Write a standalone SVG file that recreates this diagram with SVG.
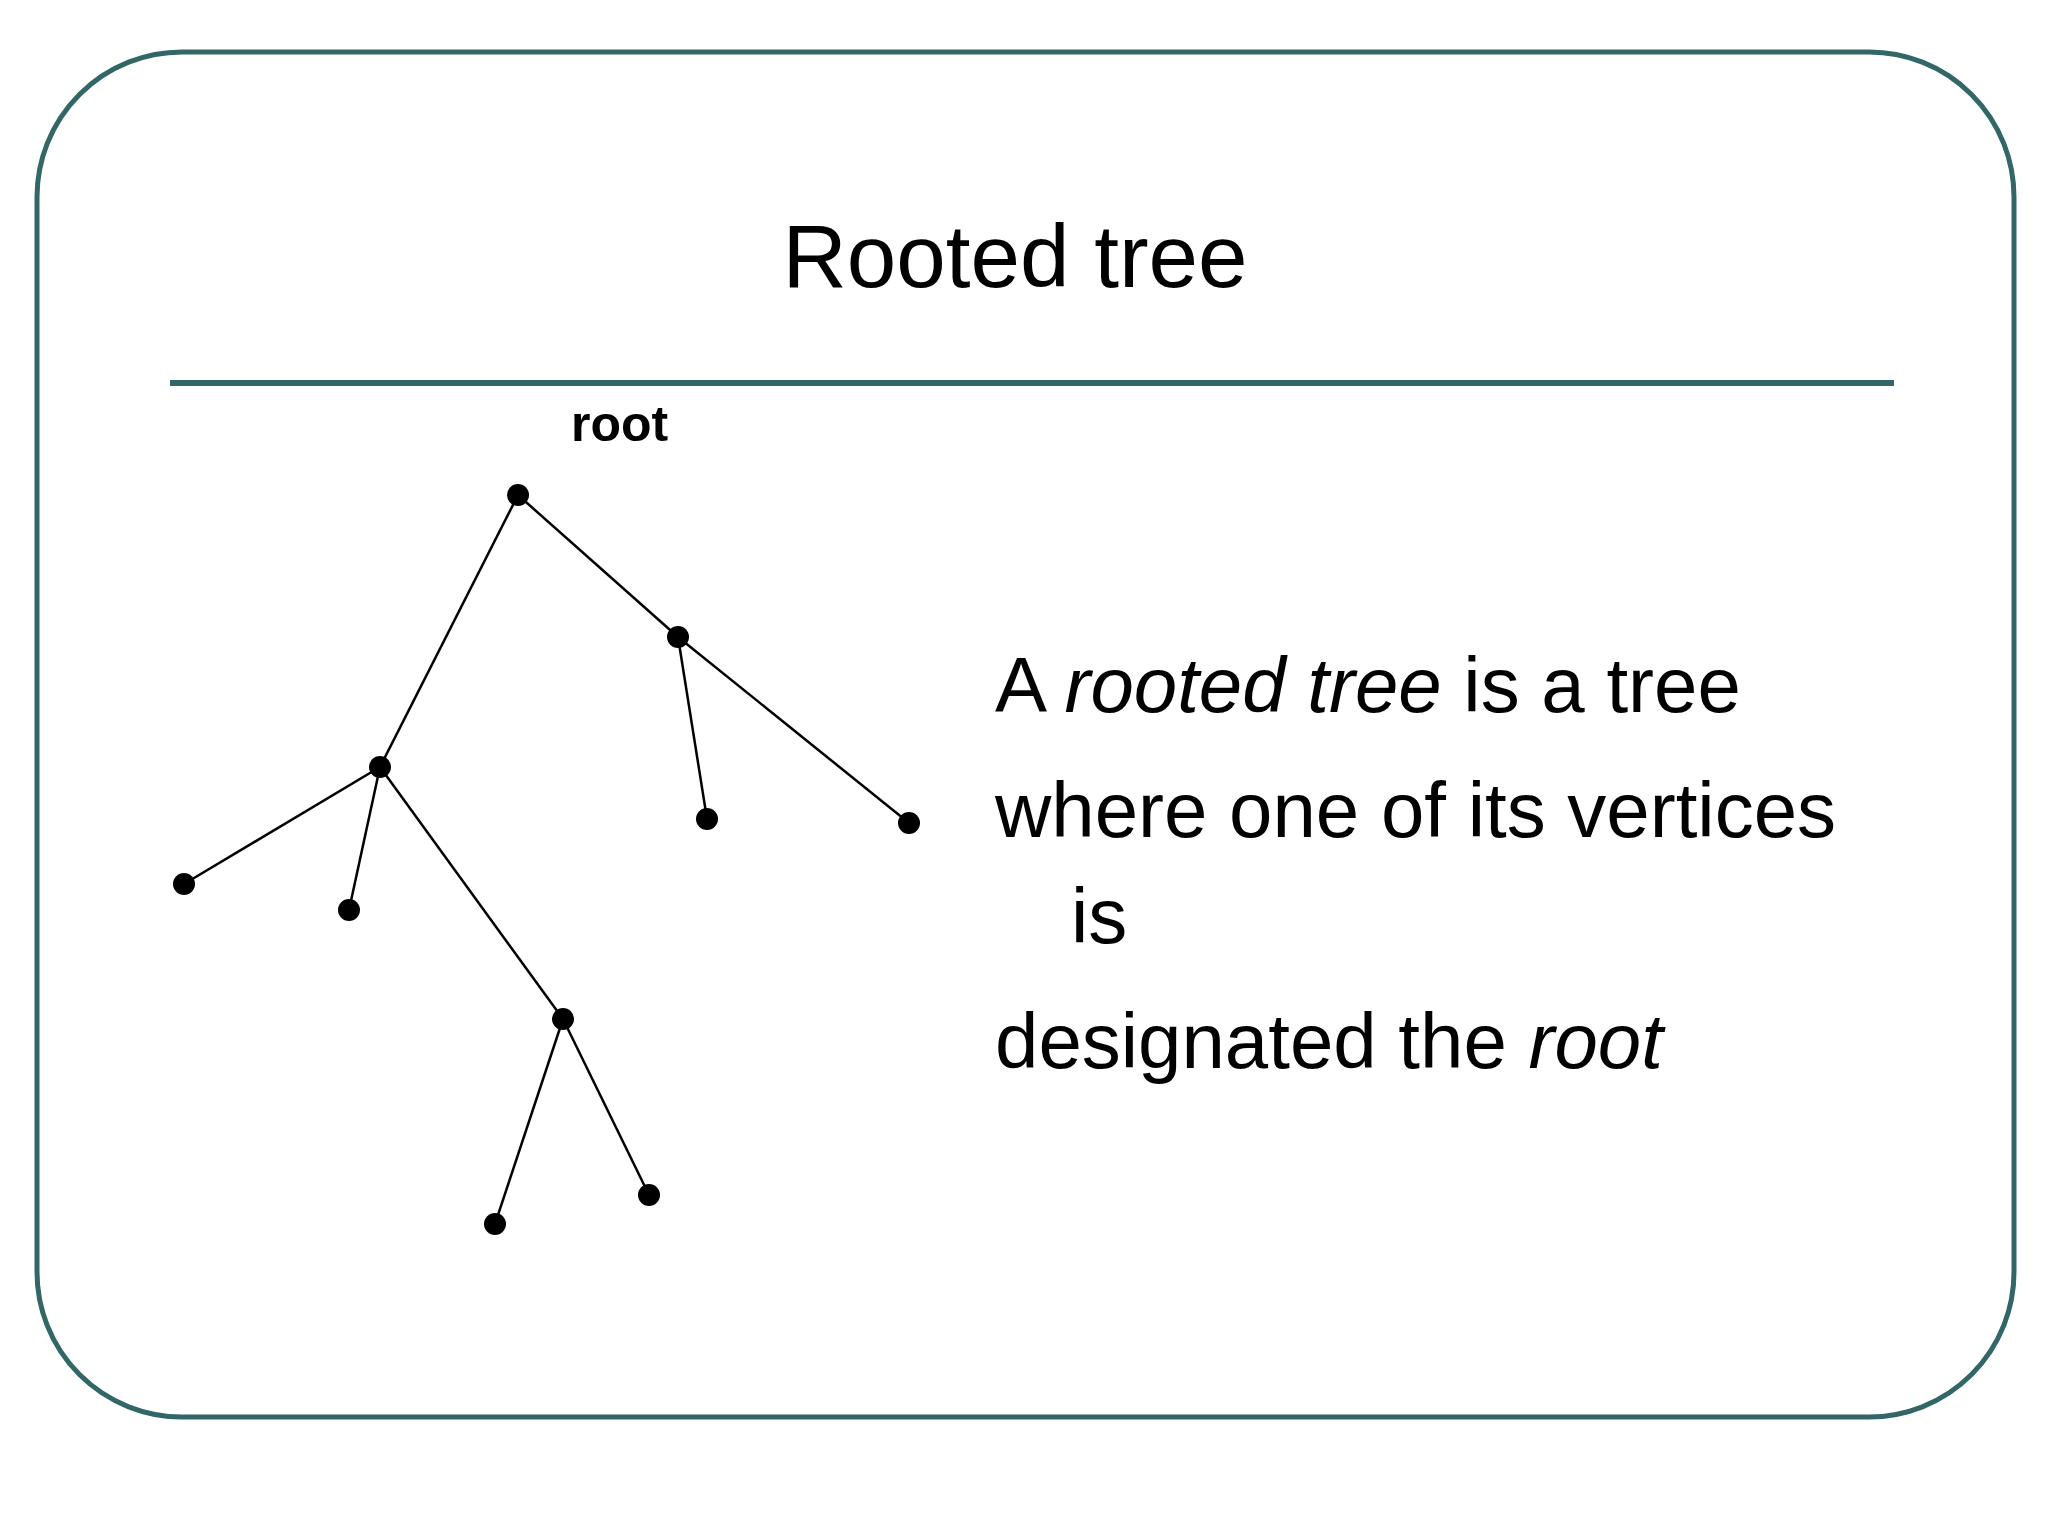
<svg xmlns="http://www.w3.org/2000/svg" width="2048" height="1536" viewBox="0 0 2048 1536">
<style>
.t{font-family:"Liberation Sans",Arial,sans-serif;fill:#000}
.e{stroke:#000;stroke-width:2.5;fill:none}
.n{fill:#000}
</style>
<rect width="2048" height="1536" fill="#fff"/>
<rect x="37" y="52" width="1977" height="1365" rx="145" ry="145" fill="none" stroke="#336666" stroke-width="5"/>
<text class="t" x="1015" y="287" font-size="89" text-anchor="middle">Rooted tree</text>
<line x1="170" y1="383" x2="1894" y2="383" stroke="#336666" stroke-width="6"/>
<text class="t" x="571" y="441" font-size="50" font-weight="bold">root</text>
<g id="connectors">
<line class="e" x1="518" y1="495" x2="380" y2="767"/>
<line class="e" x1="518" y1="495" x2="678" y2="637"/>
<line class="e" x1="678" y1="637" x2="707" y2="819"/>
<line class="e" x1="678" y1="637" x2="909" y2="823"/>
<line class="e" x1="380" y1="767" x2="184" y2="884"/>
<line class="e" x1="380" y1="767" x2="349" y2="910"/>
<line class="e" x1="380" y1="767" x2="563" y2="1019"/>
<line class="e" x1="563" y1="1019" x2="495" y2="1224"/>
<line class="e" x1="563" y1="1019" x2="649" y2="1195"/>
</g>
<g id="root"><circle class="n" cx="518" cy="495" r="11"/></g>
<g id="a"><circle class="n" cx="380" cy="767" r="11"/></g>
<g id="b"><circle class="n" cx="678" cy="637" r="11"/></g>
<g id="c"><circle class="n" cx="563" cy="1019" r="11"/></g>
<g id="l1"><circle class="n" cx="184" cy="884" r="11"/></g>
<g id="l2"><circle class="n" cx="349" cy="910" r="11"/></g>
<g id="l3"><circle class="n" cx="495" cy="1224" r="11"/></g>
<g id="l4"><circle class="n" cx="649" cy="1195" r="11"/></g>
<g id="l5"><circle class="n" cx="707" cy="819" r="11"/></g>
<g id="l6"><circle class="n" cx="909" cy="823" r="11"/></g>
<g class="t" font-size="78">
<text x="995" y="712">A <tspan font-style="italic">rooted tree</tspan> is a tree</text>
<text x="995" y="837">where one of its vertices</text>
<text x="1071" y="943">is</text>
<text x="995" y="1068">designated the <tspan font-style="italic">root</tspan></text>
</g>
</svg>
